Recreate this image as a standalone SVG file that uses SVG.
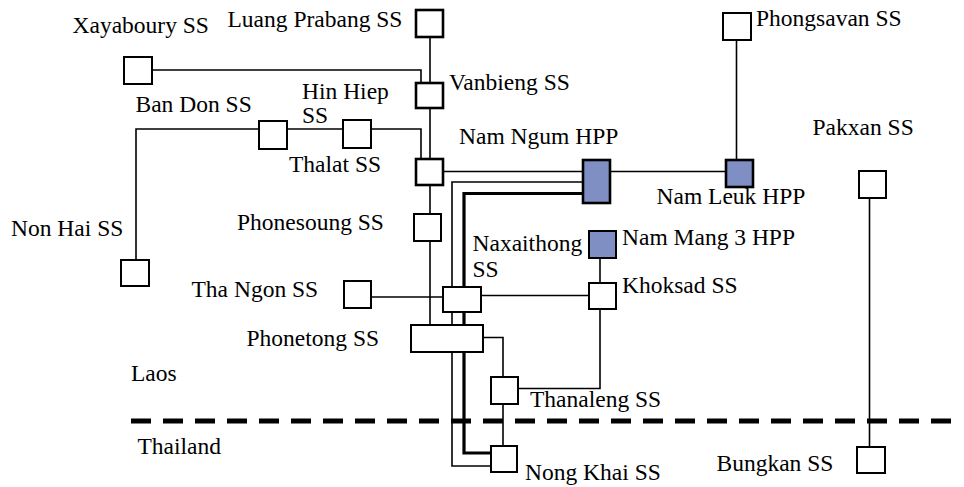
<svg xmlns="http://www.w3.org/2000/svg" width="964" height="487" viewBox="0 0 964 487">
<style>
.bg{fill:#ffffff}
.ss{fill:#ffffff;stroke:#000;stroke-width:2}
.ssb{fill:#ffffff;stroke:#000;stroke-width:2.6}
.hpp{fill:#7f8fc4;stroke:#000;stroke-width:2.6}
.ln{fill:none;stroke:#000;stroke-width:1.6}
.lnb{fill:none;stroke:#000;stroke-width:3.2}
.bd{fill:none;stroke:#000;stroke-width:5;stroke-dasharray:20 12}
text{font-family:"Liberation Serif","Times New Roman",serif;font-size:23.5px;fill:#000}
</style>
<rect class="bg" x="0" y="0" width="964" height="487"/>
<g id="connectors">
<path class="ln" d="M430,37 V325"/>
<path class="ln" d="M152,70 H421 V83"/>
<path class="ln" d="M136,260 V129 H259"/>
<path class="ln" d="M287,129 H343"/>
<path class="ln" d="M371,129 H421 V159"/>
<path class="ln" d="M443,171.5 H583"/>
<path class="ln" d="M583,182 H452 V466 H491"/>
<path class="lnb" d="M583,193.5 H464 V453 H491"/>
<path class="ln" d="M610,171.5 H726"/>
<path class="ln" d="M736.5,40 V160"/>
<path class="ln" d="M371,297 H443"/>
<path class="ln" d="M481,295.5 H589"/>
<path class="ln" d="M600,258 V283"/>
<path class="ln" d="M600,309 V388.5 H518"/>
<path class="ln" d="M483,337.5 H503 V377"/>
<path class="ln" d="M503,404 V446"/>
<path class="ln" d="M869.5,198 V447"/>
</g>
<g id="border">
<line class="bd" x1="131" y1="421" x2="955" y2="421"/>
<text x="131" y="381">Laos</text>
<text x="137.5" y="454">Thailand</text>
</g>
<g id="luang-prabang"><rect class="ssb" x="416" y="10" width="27" height="27"/><text x="227.5" y="26.5">Luang Prabang SS</text></g>
<g id="xayaboury"><rect class="ss" x="124" y="57" width="28" height="27"/><text x="72.5" y="33">Xayaboury SS</text></g>
<g id="vanbieng"><rect class="ssb" x="416" y="83" width="27" height="25"/><text x="449" y="90">Vanbieng SS</text></g>
<g id="ban-don"><rect class="ss" x="259" y="121" width="28" height="28"/><text x="135.5" y="111.5">Ban Don SS</text></g>
<g id="hin-hiep"><rect class="ss" x="343" y="120" width="28" height="28"/><text x="302" y="99">Hin Hiep</text><text x="302" y="122.5">SS</text></g>
<g id="thalat"><rect class="ssb" x="416" y="159" width="27" height="26"/><text x="289" y="171.5">Thalat SS</text></g>
<g id="nam-ngum"><rect class="hpp" x="583" y="160" width="27" height="43"/><text x="459" y="144">Nam Ngum HPP</text></g>
<g id="nam-leuk"><rect class="hpp" x="726" y="160" width="27" height="27"/><text x="656.5" y="204">Nam Leuk HPP</text></g>
<g id="phongsavan"><rect class="ss" x="723" y="13" width="28" height="27"/><text x="756" y="26">Phongsavan SS</text></g>
<g id="pakxan"><rect class="ss" x="859" y="171" width="27" height="27"/><text x="812.5" y="135">Pakxan SS</text></g>
<g id="phonesoung"><rect class="ss" x="414" y="214" width="27" height="27"/><text x="237" y="230">Phonesoung SS</text></g>
<g id="non-hai"><rect class="ss" x="121" y="260" width="28" height="26"/><text x="11" y="236">Non Hai SS</text></g>
<g id="nam-mang-3"><rect class="hpp" x="589" y="231" width="27" height="27" style="stroke-width:2"/><text x="622" y="245">Nam Mang 3 HPP</text></g>
<g id="naxaithong"><rect class="ss" x="443" y="287" width="38" height="25"/><text x="472.5" y="250.5">Naxaithong</text><text x="472.5" y="277">SS</text></g>
<g id="tha-ngon"><rect class="ss" x="344" y="281" width="27" height="27"/><text x="191.5" y="297">Tha Ngon SS</text></g>
<g id="khoksad"><rect class="ss" x="589" y="283" width="27" height="26"/><text x="622" y="293">Khoksad SS</text></g>
<g id="phonetong"><rect class="ss" x="411" y="325" width="72" height="27"/><text x="246.5" y="346">Phonetong SS</text></g>
<g id="thanaleng"><rect class="ss" x="491" y="377" width="27" height="27"/><text x="530" y="407">Thanaleng SS</text></g>
<g id="nong-khai"><rect class="ss" x="491" y="446" width="26" height="26"/><text x="525" y="480">Nong Khai SS</text></g>
<g id="bungkan"><rect class="ss" x="857" y="447" width="28" height="26"/><text x="716.5" y="471">Bungkan SS</text></g>
</svg>
